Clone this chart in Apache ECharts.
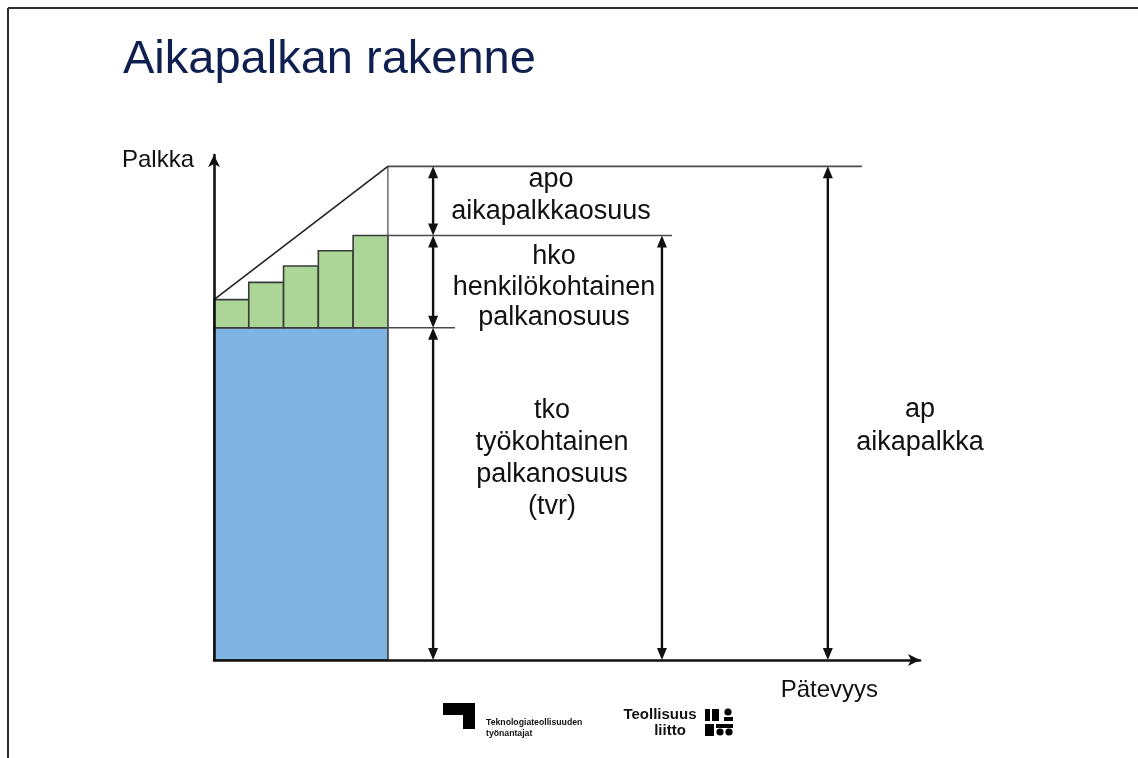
<!DOCTYPE html>
<html>
<head>
<meta charset="utf-8">
<script src="https://cdn.jsdelivr.net/npm/echarts@6/dist/echarts.min.js"></script>
<style>
html,body{margin:0;padding:0;background:#fff;}
#chart{width:1138px;height:758px;}
</style>
</head>
<body>
<div id="chart"></div>
<script>
// ---- data ----
const titleText = 'Aikapalkan rakenne';
const yAxisName = 'Palkka';
const xAxisName = 'Pätevyys';
// base level (työkohtainen palkanosuus) and full time wage level
const tkoLevel = 67.3;
const apLevel = 100;
// personal steps (hko) : start x and top level of each step
const stepStarts = [0, 1, 2, 3, 4];
const stepTops = [73.0, 76.5, 79.8, 82.9, 86.0];
// diagonal (aikapalkka line)
const diagonal = [[0, 73.0], [5, 100]];
// double arrows: [x, from level, to level]
const arrowX = [6.3, 6.3, 6.3, 12.88, 17.65];
const arrowFrom = [86.0, 67.3, 0, 0, 0];
const arrowTo = [100, 86.0, 67.3, 86.0, 100];
// reference lines: [x start, x end, level]
const refStart = [5, 5, 5];
const refEnd = [18.63, 13.17, 6.93];
const refLevel = [100, 86.0, 67.3];
// annotation texts
const labelApo = ['apo', 'aikapalkkaosuus'];
const labelHko = ['hko', 'henkilökohtainen', 'palkanosuus'];
const labelTko = ['tko', 'työkohtainen', 'palkanosuus', '(tvr)'];
const labelAp = ['ap', 'aikapalkka'];
const logo1 = ['Teknologiateollisuuden', 'työnantajat'];
const logo2 = ['Teollisuus', 'liitto'];

const FONT = '"Liberation Sans", Arial, sans-serif';
const chart = echarts.init(document.getElementById('chart'), null, {renderer: 'canvas'});

const blockData = [[0, 5, 0, tkoLevel]];
const stepData = stepStarts.map((s, i) => [s, s + 1, tkoLevel, stepTops[i]]);
const arrowData = arrowX.map((x, i) => [x, arrowFrom[i], arrowTo[i]]);
const refData = refStart.map((s, i) => [s, refEnd[i], refLevel[i]]);

function rectItem(color) {
  return function (params, api) {
    const p0 = api.coord([api.value(0), api.value(2)]);
    const p1 = api.coord([api.value(1), api.value(3)]);
    return {
      type: 'rect',
      shape: {x: p0[0], y: p1[1], width: p1[0] - p0[0], height: p0[1] - p1[1]},
      style: {fill: color, stroke: '#3a3a3a', lineWidth: 1.6}
    };
  };
}

function text(lines, x, y, lh) {
  return {
    type: 'text', x: x, y: y, z: 100,
    style: {text: lines.join('\n'), font: '27px ' + FONT, fill: '#111',
      align: 'center', verticalAlign: 'middle', lineHeight: lh}
  };
}

const option = {
  backgroundColor: '#fff',
  animation: false,
  grid: {left: 214, right: 218, top: 155, bottom: 98},
  xAxis: {
    type: 'value', min: 0, max: 20.3, z: 10,
    name: xAxisName, nameLocation: 'end', nameGap: -42,
    nameTextStyle: {fontFamily: FONT, fontSize: 24, color: '#111', align: 'right', verticalAlign: 'top', padding: [18, 0, 0, 0]},
    axisLine: {show: true, symbol: ['none', 'arrow'], symbolSize: [9, 12], lineStyle: {color: '#111', width: 2.6}},
    axisTick: {show: false}, axisLabel: {show: false}, splitLine: {show: false}
  },
  yAxis: {
    type: 'value', min: 0, max: 102.3, z: 10,
    name: yAxisName, nameLocation: 'end', nameGap: -5,
    nameTextStyle: {fontFamily: FONT, fontSize: 24, color: '#111', align: 'right', verticalAlign: 'middle', padding: [0, 20, 0, 0]},
    axisLine: {show: true, symbol: ['none', 'arrow'], symbolSize: [9, 12], lineStyle: {color: '#111', width: 2.6}},
    axisTick: {show: false}, axisLabel: {show: false}, splitLine: {show: false}
  },
  series: [
    {type: 'custom', renderItem: rectItem('#80b5e3'), data: blockData, encode: {x: [0, 1], y: [2, 3]}, silent: true, z: 2},
    {type: 'custom', renderItem: rectItem('#acd698'), data: stepData, encode: {x: [0, 1], y: [2, 3]}, silent: true, z: 2},
    {type: 'line', data: [[5, 0], [5, apLevel]], symbol: 'none', lineStyle: {color: '#555', width: 1.3}, silent: true, z: 3},
    {type: 'line', data: diagonal, symbol: 'none', lineStyle: {color: '#222', width: 1.6}, silent: true, z: 3},
    {type: 'custom', data: refData, encode: {x: [0, 1], y: 2}, silent: true, z: 3,
      renderItem: function (params, api) {
        const a = api.coord([api.value(0), api.value(2)]);
        const b = api.coord([api.value(1), api.value(2)]);
        return {type: 'line', shape: {x1: a[0], y1: a[1], x2: b[0], y2: b[1]}, style: {stroke: '#4a4a4a', lineWidth: 1.6}};
      }},
    {type: 'custom', data: arrowData, encode: {x: 0, y: [1, 2]}, silent: true, z: 4,
      renderItem: function (params, api) {
        const lo = api.coord([api.value(0), api.value(1)]);
        const hi = api.coord([api.value(0), api.value(2)]);
        const x = lo[0], hl = 12, hw = 5;
        return {type: 'group', children: [
          {type: 'line', shape: {x1: x, y1: hi[1] + hl - 1, x2: x, y2: lo[1] - hl + 1}, style: {stroke: '#111', lineWidth: 2.4}},
          {type: 'polygon', shape: {points: [[x, hi[1]], [x - hw, hi[1] + hl], [x + hw, hi[1] + hl]]}, style: {fill: '#111'}},
          {type: 'polygon', shape: {points: [[x, lo[1]], [x - hw, lo[1] - hl], [x + hw, lo[1] - hl]]}, style: {fill: '#111'}}
        ]};
      }}
  ],
  graphic: [
    // slide frame
    {type: 'line', shape: {x1: 8, y1: 8, x2: 1138, y2: 8}, style: {stroke: '#2e2e2e', lineWidth: 2}},
    {type: 'line', shape: {x1: 8, y1: 8, x2: 8, y2: 758}, style: {stroke: '#2e2e2e', lineWidth: 2}},
    // title
    {type: 'text', x: 123, y: 60, style: {text: titleText, font: '47px ' + FONT, fill: '#0f1f4f', align: 'left', verticalAlign: 'middle'}},
    // annotations
    text(labelApo, 551, 196, 32),
    text(labelHko, 554, 287.5, 30.5),
    text(labelTko, 552, 458.5, 32.3),
    text(labelAp, 920, 426.5, 33),
    // logo 1
    {type: 'polygon', shape: {points: [[443, 703], [475, 703], [475, 729], [463, 729], [463, 715], [443, 715]]}, style: {fill: '#000'}},
    {type: 'text', x: 486, y: 728, style: {text: logo1.join('\n'), font: 'bold 8.7px ' + FONT, fill: '#111', align: 'left', verticalAlign: 'middle', lineHeight: 10.5}},
    // logo 2
    {type: 'text', x: 660, y: 715, style: {text: logo2[0], font: 'bold 15px ' + FONT, fill: '#111', align: 'center', verticalAlign: 'middle'}},
    {type: 'text', x: 670, y: 731, style: {text: logo2[1], font: 'bold 15px ' + FONT, fill: '#111', align: 'center', verticalAlign: 'middle'}},
    {type: 'rect', shape: {x: 705, y: 709, width: 5, height: 12}, style: {fill: '#000'}},
    {type: 'rect', shape: {x: 712, y: 709, width: 7, height: 12}, style: {fill: '#000'}},
    {type: 'circle', shape: {cx: 728, cy: 712, r: 3.6}, style: {fill: '#000'}},
    {type: 'rect', shape: {x: 724, y: 717, width: 9, height: 4}, style: {fill: '#000'}},
    {type: 'rect', shape: {x: 705, y: 724, width: 9, height: 12}, style: {fill: '#000'}},
    {type: 'rect', shape: {x: 716, y: 724, width: 17, height: 4}, style: {fill: '#000'}},
    {type: 'circle', shape: {cx: 720, cy: 732, r: 3.6}, style: {fill: '#000'}},
    {type: 'circle', shape: {cx: 729, cy: 732, r: 3.6}, style: {fill: '#000'}}
  ]
};
chart.setOption(option);
</script>
</body>
</html>
